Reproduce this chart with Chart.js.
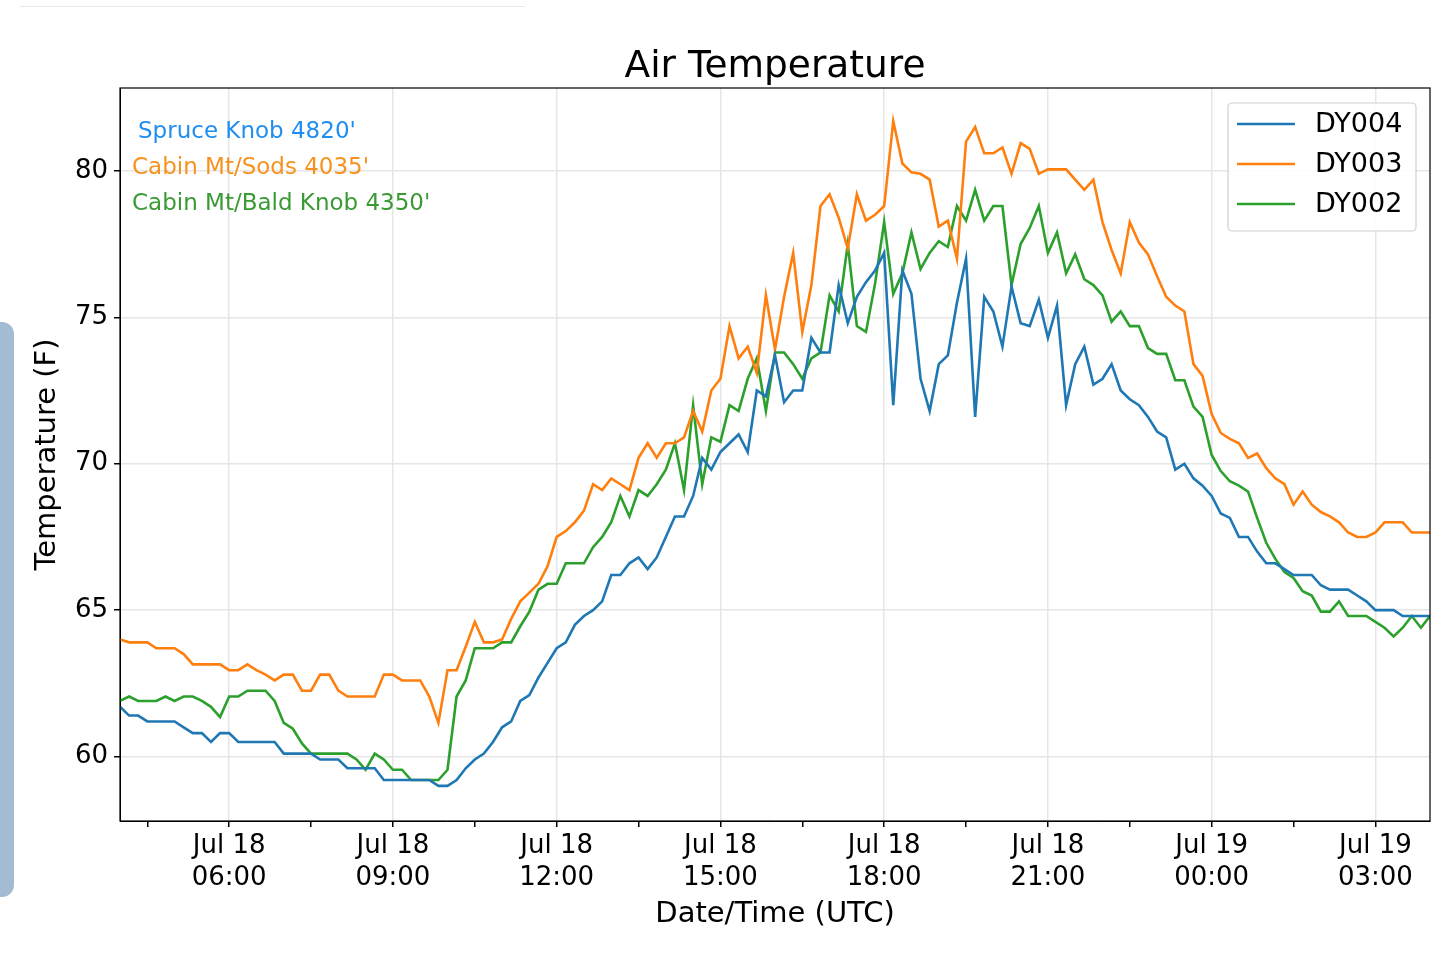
<!DOCTYPE html>
<html>
<head>
<meta charset="utf-8">
<script src="https://cdn.jsdelivr.net/npm/chart.js@4/dist/chart.umd.min.js"></script>
<style>
  body { margin: 0; background: #fff; }
  #wrap { position: relative; width: 1440px; height: 955px; }
  #topline { position: absolute; left: 20px; top: 6px; width: 505px; height: 1px; background: #e8e8e8; }
  #sidebar { position: absolute; left: -14px; top: 322px; width: 28px; height: 575px; background: #a3bcd3; border-radius: 12px; }
</style>
</head>
<body>
<div id="wrap">
  <div id="topline"></div>
  <div id="sidebar"></div>
  <canvas id="tempChart" width="1440" height="955"></canvas>
</div>
<script>
// 10-minute samples from Jul 18 04:00 UTC to Jul 19 04:00 UTC
const startMinute = 240;
const stepMinutes = 10;

const dy004 = [
  61.7, 61.4, 61.4, 61.2, 61.2, 61.2, 61.2, 61.0, 60.8, 60.8, 60.5, 60.8, 60.8, 60.5, 60.5, 60.5,
  60.5, 60.5, 60.1, 60.1, 60.1, 60.1, 59.9, 59.9, 59.9, 59.6, 59.6, 59.6, 59.6, 59.2, 59.2, 59.2,
  59.2, 59.2, 59.2, 59.0, 59.0, 59.2, 59.6, 59.9, 60.1, 60.5, 61.0, 61.2, 61.9, 62.1, 62.7, 63.2,
  63.7, 63.9, 64.5, 64.8, 65.0, 65.3, 66.2, 66.2, 66.6, 66.8, 66.4, 66.8, 67.5, 68.2, 68.2, 68.9,
  70.2, 69.8, 70.4, 70.7, 71.0, 70.4, 72.5, 72.3, 73.7, 72.1, 72.5, 72.5, 74.3, 73.8, 73.8, 76.1,
  74.8, 75.7, 76.2, 76.6, 77.2, 72.0, 76.6, 75.8, 72.9, 71.8, 73.4, 73.7, 75.5, 77.0, 71.6, 75.7,
  75.2, 74.0, 76.05, 74.8, 74.7, 75.6, 74.3, 75.4, 72.0, 73.4, 74.0, 72.7, 72.9, 73.4, 72.5, 72.2,
  72.0, 71.6, 71.1, 70.9, 69.8, 70.0, 69.5, 69.25, 68.9, 68.3, 68.15, 67.5, 67.5, 67.0, 66.6, 66.6,
  66.4, 66.2, 66.2, 66.2, 65.85, 65.7, 65.7, 65.7, 65.5, 65.3, 65.0, 65.0, 65.0, 64.8, 64.8, 64.8,
  64.8
];

const dy003 = [
  64.0, 63.9, 63.9, 63.9, 63.7, 63.7, 63.7, 63.5, 63.15, 63.15, 63.15, 63.15, 62.95, 62.95, 63.15, 62.95,
  62.8, 62.6, 62.8, 62.8, 62.25, 62.25, 62.8, 62.8, 62.25, 62.05, 62.05, 62.05, 62.05, 62.8, 62.8, 62.6,
  62.6, 62.6, 62.05, 61.15, 62.95, 62.95, 63.75, 64.6, 63.9, 63.9, 64.0, 64.7, 65.3, 65.6, 65.9, 66.5,
  67.5, 67.7, 68.0, 68.4, 69.3, 69.1, 69.5, 69.3, 69.1, 70.2, 70.7, 70.2, 70.7, 70.7, 70.9, 71.8,
  71.1, 72.5, 72.9, 74.7, 73.6, 74.0, 73.1, 75.75, 73.9, 75.7, 77.2, 74.5, 76.1, 78.8, 79.2, 78.4,
  77.35, 79.2, 78.3, 78.5, 78.8, 81.7, 80.25, 79.95, 79.9, 79.7, 78.1, 78.3, 77.0, 81.0, 81.5, 80.6,
  80.6, 80.8, 79.9, 80.95, 80.75, 79.9, 80.05, 80.05, 80.05, 79.7, 79.35, 79.7, 78.25, 77.3, 76.5, 78.25,
  77.55, 77.15, 76.4, 75.7, 75.4, 75.2, 73.4, 73.0, 71.7, 71.05, 70.85, 70.7, 70.2, 70.35, 69.85, 69.5,
  69.3, 68.6, 69.05, 68.6, 68.35, 68.2, 68.0, 67.65, 67.5, 67.5, 67.65, 68.0, 68.0, 68.0, 67.65, 67.65,
  67.65
];

const dy002 = [
  61.9, 62.05, 61.9, 61.9, 61.9, 62.05, 61.9, 62.05, 62.05, 61.9, 61.7, 61.35, 62.05, 62.05, 62.25, 62.25,
  62.25, 61.9, 61.15, 60.95, 60.45, 60.1, 60.1, 60.1, 60.1, 60.1, 59.9, 59.55, 60.1, 59.9, 59.55, 59.55,
  59.2, 59.2, 59.2, 59.2, 59.55, 62.05, 62.6, 63.7, 63.7, 63.7, 63.9, 63.9, 64.45, 64.95, 65.7, 65.9,
  65.9, 66.6, 66.6, 66.6, 67.15, 67.5, 68.0, 68.9, 68.2, 69.1, 68.9, 69.3, 69.8, 70.7, 69.1, 72.0,
  69.3, 70.9, 70.75, 72.0, 71.8, 72.9, 73.6, 71.8, 73.8, 73.8, 73.4, 72.9, 73.6, 73.8, 75.75, 75.2,
  77.5, 74.7, 74.5, 76.15, 78.25, 75.8, 76.5, 77.9, 76.65, 77.2, 77.6, 77.4, 78.8, 78.3, 79.35, 78.3,
  78.8, 78.8, 76.1, 77.5, 78.05, 78.8, 77.2, 77.9, 76.5, 77.15, 76.3, 76.1, 75.75, 74.85, 75.2, 74.7,
  74.7, 73.95, 73.75, 73.75, 72.85, 72.85, 71.95, 71.6, 70.3, 69.75, 69.4, 69.25, 69.05, 68.15, 67.3, 66.75,
  66.3, 66.1, 65.65, 65.5, 64.95, 64.95, 65.3, 64.8, 64.8, 64.8, 64.6, 64.4, 64.1, 64.4, 64.8, 64.4,
  64.8
];

const seriesNames = ['DY004', 'DY003', 'DY002'];
const seriesColors = ['#1f77b4', '#ff7f0e', '#2ca02c'];
const siteNotes = ["Spruce Knob 4820'", "Cabin Mt/Sods 4035'", "Cabin Mt/Bald Knob 4350'"];
const siteColors = ['#1f8ef1', '#f7921e', '#3a9a34'];
const yTicks = [60, 65, 70, 75, 80];
const xMajorTicks = [360, 540, 720, 900, 1080, 1260, 1440, 1620];
const xTickLabels = [
  ['Jul 18', '06:00'], ['Jul 18', '09:00'], ['Jul 18', '12:00'], ['Jul 18', '15:00'],
  ['Jul 18', '18:00'], ['Jul 18', '21:00'], ['Jul 19', '00:00'], ['Jul 19', '03:00']
];

const FONT = '"DejaVu Sans", sans-serif';

function toPoints(values) {
  return values.map((v, i) => ({ x: startMinute + i * stepMinutes, y: v }));
}

const datasets = [dy004, dy003, dy002].map((vals, k) => ({
  label: seriesNames[k],
  data: toPoints(vals),
  borderColor: seriesColors[k],
  borderWidth: 2.6,
  pointRadius: 0,
  tension: 0,
  fill: false
}));

const decorPlugin = {
  id: 'decor',
  afterDraw(chart) {
    const { ctx, chartArea: a } = chart;
    ctx.save();
    // frame
    ctx.strokeStyle = '#000';
    ctx.lineWidth = 1.2;
    ctx.strokeRect(a.left, a.top, a.right - a.left, a.bottom - a.top);

    // title and axis titles
    ctx.fillStyle = '#000';
    ctx.textAlign = 'center';
    ctx.textBaseline = 'alphabetic';
    ctx.font = '37.5px ' + FONT;
    ctx.fillText('Air Temperature', (a.left + a.right) / 2, 77);
    ctx.font = '29px ' + FONT;
    ctx.fillText('Date/Time (UTC)', (a.left + a.right) / 2, 922);
    ctx.save();
    ctx.translate(55, (a.top + a.bottom) / 2);
    ctx.rotate(-Math.PI / 2);
    ctx.fillText('Temperature (F)', 0, 0);
    ctx.restore();

    // site notes
    ctx.textAlign = 'left';
    ctx.font = '23px ' + FONT;
    siteNotes.forEach((t, i) => {
      ctx.fillStyle = siteColors[i];
      ctx.fillText(t, i === 0 ? 138 : 132, 138 + i * 36);
    });

    // legend box
    const bx = 1228, by = 103, bw = 188, bh = 128;
    ctx.fillStyle = 'rgba(255,255,255,0.85)';
    ctx.strokeStyle = '#d0d0d0';
    ctx.lineWidth = 1.2;
    ctx.beginPath();
    ctx.roundRect(bx, by, bw, bh, 4);
    ctx.fill();
    ctx.stroke();
    ctx.font = '27px ' + FONT;
    seriesNames.forEach((n, i) => {
      const y = by + 21 + i * 40;
      ctx.strokeStyle = seriesColors[i];
      ctx.lineWidth = 2.6;
      ctx.beginPath();
      ctx.moveTo(bx + 9, y);
      ctx.lineTo(bx + 67, y);
      ctx.stroke();
      ctx.fillStyle = '#000';
      ctx.textBaseline = 'middle';
      ctx.fillText(n, bx + 87, y + 1);
    });
    ctx.restore();
  }
};

new Chart(document.getElementById('tempChart'), {
  type: 'line',
  data: { datasets: datasets },
  plugins: [decorPlugin],
  options: {
    responsive: false,
    animation: false,
    layout: { padding: { top: 88, right: 10, left: 0, bottom: 0 } },
    plugins: { legend: { display: false }, tooltip: { enabled: false } },
    scales: {
      x: {
        type: 'linear',
        min: 240,
        max: 1680,
        afterFit: (s) => { s.height = 134; },
        afterBuildTicks: (s) => {
          const t = [];
          for (let m = 270; m <= 1680; m += 90) t.push({ value: m });
          s.ticks = t;
        },
        ticks: {
          autoSkip: false,
          maxRotation: 0,
          color: '#000',
          font: { family: FONT, size: 26 },
          padding: 4,
          callback: (v) => {
            const k = xMajorTicks.indexOf(v);
            return k >= 0 ? xTickLabels[k] : '';
          }
        },
        grid: {
          color: (c) => (xMajorTicks.includes(c.tick.value) ? '#e6e6e6' : 'rgba(0,0,0,0)'),
          tickColor: '#000',
          tickLength: 6,
          lineWidth: 1.5
        },
        border: { color: '#000' }
      },
      y: {
        min: 57.8,
        max: 82.83,
        afterFit: (s) => { s.width = 120; },
        afterBuildTicks: (s) => { s.ticks = yTicks.map(v => ({ value: v })); },
        ticks: {
          color: '#000',
          font: { family: FONT, size: 26 },
          padding: 6
        },
        grid: { color: '#e6e6e6', tickColor: '#000', tickLength: 6, lineWidth: 1.5 },
        border: { color: '#000' }
      }
    }
  }
});
</script>
</body>
</html>
